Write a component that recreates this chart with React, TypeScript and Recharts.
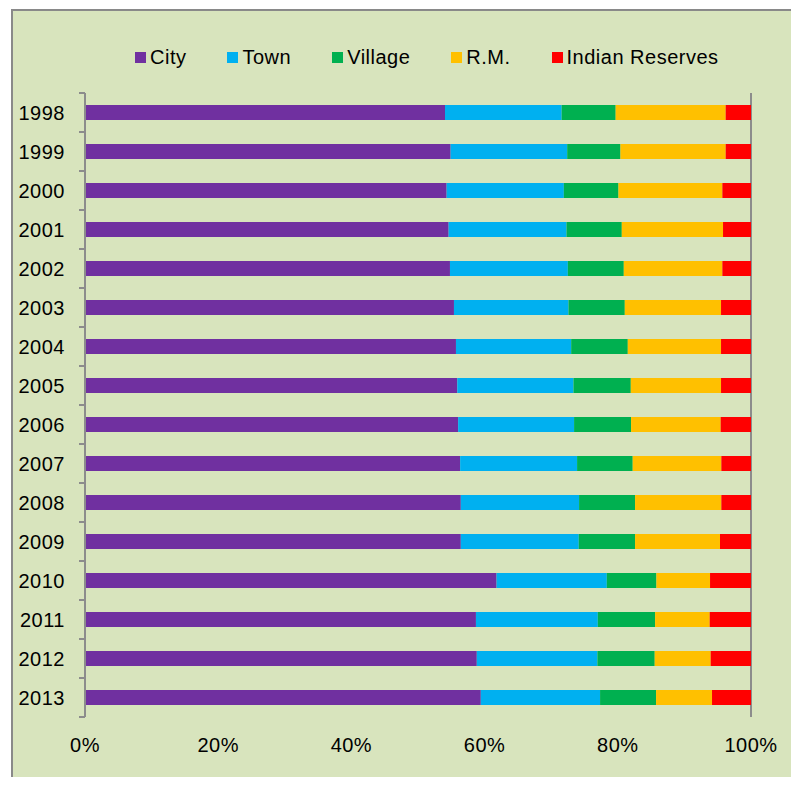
import React from 'react';
import { BarChart, Bar, XAxis, YAxis, CartesianGrid, Legend } from 'recharts';

const years = ['1998','1999','2000','2001','2002','2003','2004','2005','2006','2007','2008','2009','2010','2011','2012','2013'];
const city = [54.0, 54.9, 54.3, 54.6, 54.8, 55.4, 55.7, 55.9, 56.0, 56.3, 56.4, 56.4, 61.8, 58.7, 58.8, 59.4];
const town = [17.5, 17.5, 17.6, 17.7, 17.7, 17.2, 17.3, 17.45, 17.4, 17.55, 17.75, 17.7, 16.55, 18.3, 18.1, 17.9];
const village = [8.1, 8.0, 8.2, 8.3, 8.4, 8.45, 8.5, 8.6, 8.55, 8.35, 8.4, 8.45, 7.45, 8.6, 8.6, 8.4];
const rm = [16.5, 15.8, 15.6, 15.2, 14.8, 14.45, 14.0, 13.55, 13.45, 13.3, 12.95, 12.75, 8.05, 8.2, 8.4, 8.4];
const reserves = [3.8, 3.8, 4.3, 4.2, 4.3, 4.5, 4.5, 4.5, 4.55, 4.45, 4.45, 4.65, 6.15, 6.2, 6.05, 5.85];
const xTicks = [0, 0.2, 0.4, 0.6, 0.8, 1];

const seriesDefs = [
  { key: 'City', color: '#7030A0' },
  { key: 'Town', color: '#00B0F0' },
  { key: 'Village', color: '#00B050' },
  { key: 'R.M.', color: '#FFC000' },
  { key: 'Indian Reserves', color: '#FF0000' },
];

const data = years.map((y, i) => ({
  year: y,
  City: city[i],
  Town: town[i],
  Village: village[i],
  'R.M.': rm[i],
  'Indian Reserves': reserves[i],
}));

const FONT = '"Liberation Sans", Arial, sans-serif';
const LS = '0.5px';
const GRID = '#8c8c8c';
const W = 799;
const H = 785;
const MARGIN = { top: 53, right: 48, bottom: 28, left: 15 };
const LEGEND_H = 40;
const X_AXIS_H = 40;
const PLOT_H = H - MARGIN.top - LEGEND_H - MARGIN.bottom - X_AXIS_H;
const HALF_BAND = PLOT_H / years.length / 2;

const YTick = (props: any) => {
  const { x, y, payload } = props;
  const axisX = x + 20;
  return (
    <g>
      <line x1={axisX - 6} x2={axisX} y1={y - HALF_BAND} y2={y - HALF_BAND} stroke={GRID} strokeWidth={2} />
      <line x1={axisX - 6} x2={axisX} y1={y + HALF_BAND} y2={y + HALF_BAND} stroke={GRID} strokeWidth={2} />
      <text x={x} y={y} dy={7} textAnchor="end" fontSize={20} fontFamily={FONT} fill="#000" style={{ letterSpacing: LS }}>{payload.value}</text>
    </g>
  );
};

const XTick = (props: any) => {
  const { x, y, payload } = props;
  return (
    <text x={x} y={y} dy={14.5} textAnchor="middle" fontSize={20} fontFamily={FONT} fill="#000" style={{ letterSpacing: LS }}>
      {`${Math.round(payload.value * 100)}%`}
    </text>
  );
};

const LegendContent = () => (
  <div style={{ display: 'flex', alignItems: 'center', height: LEGEND_H, paddingLeft: 135, fontFamily: FONT, fontSize: 20, color: '#000', boxSizing: 'border-box', letterSpacing: LS }}>
    {seriesDefs.map((s) => (
      <div key={s.key} style={{ display: 'flex', alignItems: 'center', marginRight: 41 }}>
        <span style={{ display: 'inline-block', width: 11, height: 11, background: s.color, marginRight: 4 }} />
        <span style={{ lineHeight: '20px', whiteSpace: 'nowrap' }}>{s.key}</span>
      </div>
    ))}
  </div>
);

export default function App() {
  return (
    <div style={{ position: 'relative', width: W, height: H, margin: -8, overflow: 'hidden' }}>
      <div style={{ position: 'absolute', left: 11, top: 9, width: 784, height: H - 9, border: '2px solid #898989', borderBottom: 'none', background: '#D8E4BD', boxSizing: 'border-box' }} />
      <div style={{ position: 'absolute', left: 0, top: 0 }}>
        <BarChart width={W} height={H} data={data} layout="vertical" stackOffset="expand" margin={MARGIN} barSize={15}>
          <CartesianGrid vertical horizontal={false} stroke={GRID} strokeWidth={2} />
          <Legend verticalAlign="top" content={<LegendContent />} wrapperStyle={{ left: 0, top: 37, width: W, height: LEGEND_H }} />
          <XAxis
            xAxisId="bottom"
            type="number"
            domain={[0, 1]}
            ticks={xTicks}
            orientation="bottom"
            height={X_AXIS_H}
            axisLine={false}
            tickLine={false}
            tickSize={6}
            tickMargin={14}
            tick={<XTick />}
            interval={0}
          />
          <XAxis
            xAxisId="top"
            type="number"
            domain={[0, 1]}
            ticks={xTicks}
            orientation="top"
            height={0}
            axisLine={{ stroke: GRID, strokeWidth: 2 }}
            tickLine={false}
            tick={false}
          />
          <YAxis
            type="category"
            dataKey="year"
            width={70}
            axisLine={{ stroke: GRID, strokeWidth: 2 }}
            tickLine={false}
            tickSize={6}
            tickMargin={14}
            tick={<YTick />}
            interval={0}
          />
          {seriesDefs.map((s) => (
            <Bar key={s.key} dataKey={s.key} xAxisId="bottom" stackId="a" fill={s.color} isAnimationActive={false} />
          ))}
        </BarChart>
      </div>
    </div>
  );
}
